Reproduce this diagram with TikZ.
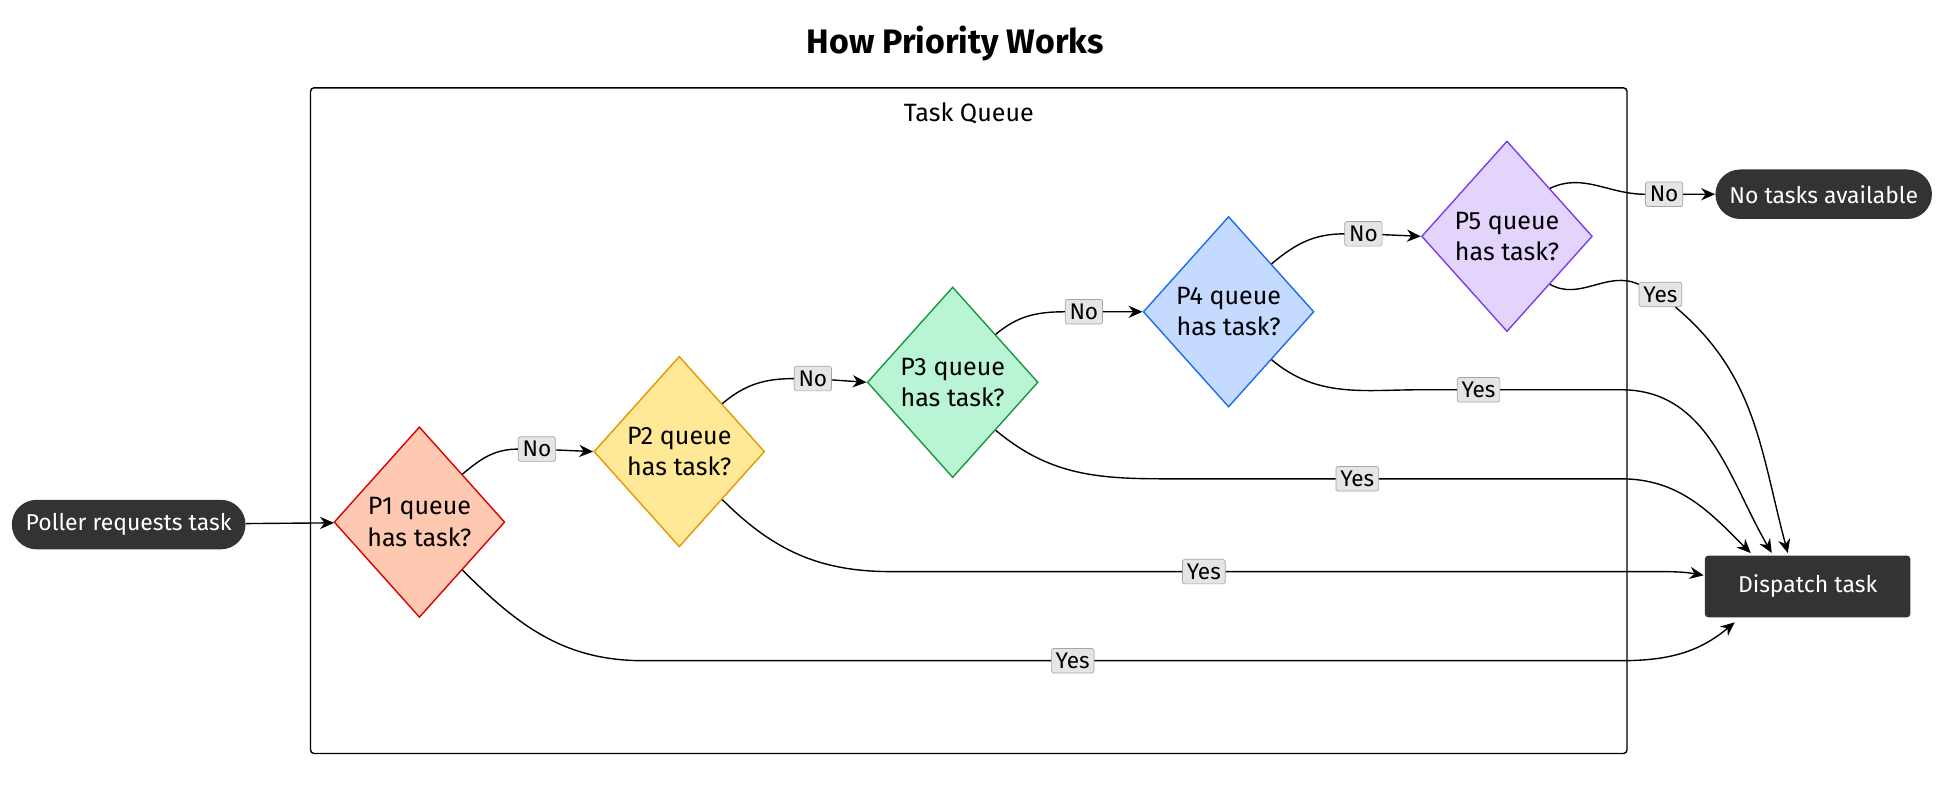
\documentclass[tikz,border=0pt]{standalone}
\usepackage{fontspec}
\setmainfont{Fira Sans}
\usetikzlibrary{shapes.geometric,arrows.meta}
\definecolor{darknode}{HTML}{333333}
\tikzset{
  edge/.style={draw, thick, -{Stealth[length=8pt,width=7pt]}},
  lbl/.style={draw=gray!70, fill=gray!20, rounded corners=1pt, inner sep=2.5pt, font=\fontsize{13}{15}\selectfont},
  pill/.style={rounded corners=10pt, fill=darknode, text=white, minimum height=1cm, inner xsep=8pt, font=\fontsize{13.2}{16}\selectfont},
  query/.style={diamond, draw, thick, align=center, minimum width=3.45cm, minimum height=3.85cm, inner sep=0pt, font=\Large},
}
\begin{document}
\begin{tikzpicture}[x=0.025cm, y=-0.025cm]
				\useasboundingbox (0,0) rectangle (1568,655);
				% Title and group box
				\node[font=\fontsize{19.5}{23}\selectfont\bfseries] (title) at (772,35) {How Priority Works};
				\draw[thick, rounded corners=2pt] (251,71) rectangle (1315,609);
				\node[font=\Large] (group) at (783,92) {Task Queue};

				% Terminal nodes
				\node[pill, minimum width=4.65cm, rounded corners=0.5cm] (poller) at (104,424) {Poller requests task};
				\node[pill, minimum width=4.25cm, rounded corners=0.5cm] (none) at (1474,157) {No tasks available};
				\node[pill, minimum width=4.15cm, minimum height=1.25cm, rounded corners=2pt] (dispatch) at (1461,474) {Dispatch task};

				% Priority checks
				\node[query, draw=red!85!black, fill={rgb,255:red,255;green,200;blue,176}] (p1) at (339,422) {P1 queue\\has task?};
				\node[query, draw={rgb,255:red,232;green,150;blue,0}, fill={rgb,255:red,255;green,232;blue,150}] (p2) at (549,365) {P2 queue\\has task?};
				\node[query, draw={rgb,255:red,26;green,150;blue,64}, fill={rgb,255:red,185;green,245;blue,213}] (p3) at (770,309) {P3 queue\\has task?};
				\node[query, draw={rgb,255:red,26;green,108;blue,240}, fill={rgb,255:red,196;green,218;blue,255}] (p4) at (993,252) {P4 queue\\has task?};
				\node[query, draw={rgb,255:red,123;green,60;blue,240}, fill={rgb,255:red,226;green,212;blue,251}] (p5) at (1218,191) {P5 queue\\has task?};

				% Edge labels
				\node[lbl] (no1) at (434,363) {No};
				\node[lbl] (no2) at (657,306) {No};
				\node[lbl] (no3) at (876,252) {No};
				\node[lbl] (no4) at (1102,189) {No};
				\node[lbl] (no5) at (1345,157) {No};
				\node[lbl] (yes1) at (867,534) {Yes};
				\node[lbl] (yes2) at (973,462) {Yes};
				\node[lbl] (yes3) at (1097,387) {Yes};
				\node[lbl] (yes4) at (1195,315) {Yes};
				\node[lbl] (yes5) at (1342,238) {Yes};

				% No branch
				\draw[edge] (poller) -- (p1);
				\draw[edge] (p1.north east) to[out=40,in=180] (no1) -- (p2.west);
				\draw[edge] (p2.north east) to[out=40,in=180] (no2) -- (p3.west);
				\draw[edge] (p3.north east) to[out=40,in=180] (no3) -- (p4.west);
				\draw[edge] (p4.north east) to[out=40,in=180] (no4) -- (p5.west);
				\draw[edge] (p5.north east) to[out=25,in=180] (no5) -- (none);

				% Yes branch
				\coordinate (d1) at (1402,503);
				\coordinate (d2) at (1377,465);
				\coordinate (d3) at (1415,447);
				\coordinate (d4) at (1432,447);
				\coordinate (d5) at (1445,447);
				\draw[edge] (p1.south east) to[out=-45,in=180] (520,534) -- (yes1) -- (1310,534) to[out=0,in=-140] (d1);
				\draw[edge] (p2.south east) to[out=-45,in=180] (720,462) -- (yes2) -- (1330,462) to[out=0,in=170] (d2);
				\draw[edge] (p3.south east) to[out=-40,in=180] (940,387) -- (yes3) -- (1310,387) to[out=0,in=135] (d3);
				\draw[edge] (p4.south east) to[out=-40,in=180] (1150,315) -- (yes4) -- (1310,315) to[out=0,in=120] (d4);
				\draw[thick] (p5.south east) to[out=-30,in=155] (yes5);
				\draw[edge] (yes5) to[out=-40,in=105] (d5);
			\end{tikzpicture}
\end{document}
